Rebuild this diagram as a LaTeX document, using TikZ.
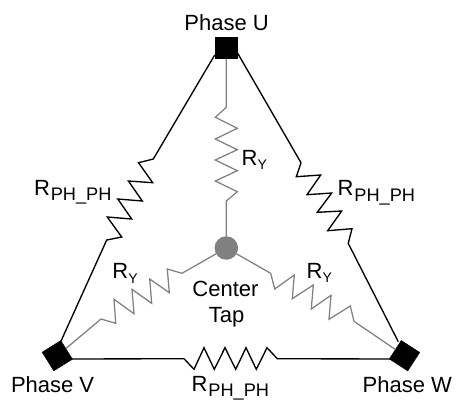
\documentclass[tikz,border=0pt]{standalone}
\usepackage{fontspec}
\setmainfont{Liberation Sans}
\newcommand{\bigfs}{\fontsize{22pt}{26.5pt}\selectfont}
\newcommand{\RYlabel}{\bigfs R\raisebox{-4.3pt}{\fontsize{14pt}{14pt}\selectfont Y}}
\newcommand{\RPHlabel}[1]{\bigfs R\kern0.8pt\raisebox{-#1}{\fontsize{18.2pt}{18pt}\selectfont PH\_PH}}
\tikzset{
  x=1pt,y=-1pt,
  terminal/.style={draw=black,fill=black,minimum width=22pt,minimum height=22pt,inner sep=0pt,outer sep=0pt},
  hub/.style={circle,fill=wiregray,minimum size=23.5pt,inner sep=0pt,outer sep=0pt},
  label/.style={anchor=base west,inner sep=0pt,outer sep=0pt,font=\bigfs},
  blackwire/.style={draw=black,line width=1.35pt,line join=miter},
  graywire/.style={draw=wiregray,line width=1.25pt,line join=miter},
}
\definecolor{wiregray}{HTML}{808080}
\begin{document}
\begin{tikzpicture}
\useasboundingbox (0,0) rectangle (457,400);
\fill[white] (0,0) rectangle (457,400);
% terminals
\node[terminal,minimum width=22.5pt,minimum height=21pt] (U) at (226.2,48) {};
\node[terminal,rotate=32] (V) at (57.3,355.7) {};
\node[terminal,rotate=-33] (W) at (404.5,355.7) {};
\node[hub] (C) at (226.3,248) {};
% wire ends on the terminals
\coordinate (UL) at (214.7,55);
\coordinate (UR) at (237.7,53.3);
\coordinate (VT) at (60.7,341.7);
\coordinate (VR) at (71.7,359);
\coordinate (WL) at (391.7,359);
\coordinate (WT) at (398.3,341.7);
% star resistors
\draw[graywire] (U) -- (226.3,107.3) -- (215.3,117.3) -- (237.3,128.3) -- (215.3,139) -- (237.3,149.7) -- (215.3,160) -- (237.3,170.7) -- (215.3,181) -- (237.3,191.7) -- (226.3,201) -- (C);
\draw[graywire] (V) -- (101,319) -- (115.7,323.3) -- (114,299.3) -- (134,313.7) -- (132,289.3) -- (151.7,303.3) -- (149.7,279) -- (169.3,292.7) -- (167.3,269) -- (182,273.3) -- (C);
\draw[graywire] (C) -- (270.7,273.3) -- (274.7,289) -- (294.3,275) -- (292.3,298.7) -- (313.3,285) -- (311.3,309) -- (331,295.3) -- (329,319.3) -- (350.3,306) -- (354,321.3) -- (W);
% delta resistors
\draw[blackwire] (UL) -- (153.3,159) -- (138.5,162.7) -- (152.7,182.7) -- (128.4,181) -- (142.3,201) -- (117.8,199) -- (131.7,219) -- (107.3,217) -- (121.7,237) -- (106.7,240) -- (VT);
\draw[blackwire] (UR) -- (301,162.7) -- (296.3,176.7) -- (320.7,175) -- (307,194.7) -- (331.7,193) -- (317.3,212.3) -- (341.7,211) -- (327.7,230.7) -- (352,228.7) -- (348.2,243.3) -- (WT);
\draw[blackwire] (VR) -- (184,358.7) -- (194,369.3) -- (204,347.7) -- (214.3,369.3) -- (225,347.7) -- (235.7,369.3) -- (246,347.7) -- (256.3,369.3) -- (267,347.7) -- (277.3,358.7) -- (WL);
% labels
\node[label] (lu) at (184.4,30) {Phase U};
\node[label] (lv) at (11,392.3) {Phase V};
\node[label] (lw) at (362.7,392.3) {Phase W};
\node[label,anchor=base] (lc) at (225.5,296) {Center};
\node[label,anchor=base] (lt) at (226.5,322.5) {Tap};
\node[label] (ry1) at (241.7,165) {\RYlabel};
\node[label] (ry2) at (112.4,278.7) {\RYlabel};
\node[label] (ry3) at (306.7,278.3) {\RYlabel};
\node[label] (rp1) at (34.1,195) {\RPHlabel{5.7pt}};
\node[label] (rp2) at (337.7,195.7) {\RPHlabel{5.7pt}};
\node[label] (rp3) at (191.7,391.5) {\RPHlabel{4.6pt}};
\end{tikzpicture}
\end{document}
